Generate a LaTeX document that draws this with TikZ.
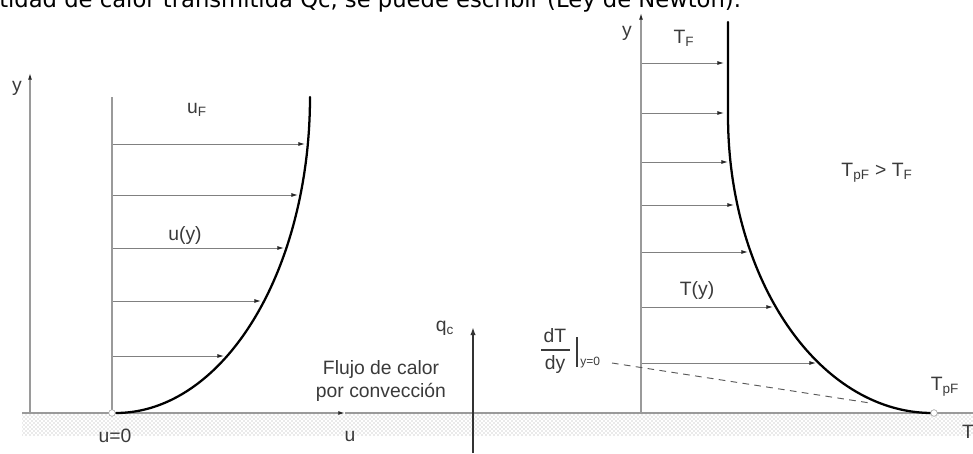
\documentclass[tikz,border=0pt]{standalone}
\usepackage{fontspec}
\setmainfont{Liberation Sans}
\newfontfamily\pagefont{DejaVu Sans}
\usetikzlibrary{arrows.meta,patterns}
\definecolor{axisgray}{HTML}{9A9A9A}
\definecolor{labelgray}{HTML}{3A3A3A}
\tikzset{
  axisline/.style={draw=axisgray, line width=0.9pt},
  axistip/.style={-{Latex[length=5pt,width=3pt,color=black!85]}},
  flowarrow/.style={draw=gray, line width=0.7pt, -{Latex[length=5pt,width=3pt,color=black!85]}},
  profile/.style={line width=1.7pt, black, line cap=round},
  lbl/.style={text=labelgray, font=\fontsize{14.5}{17}\selectfont, inner sep=0pt},
  sublbl/.style={text=labelgray, font=\fontsize{9}{10}\selectfont, inner sep=0pt},
  wallpt/.style={circle, draw=axisgray, fill=white, inner sep=0pt, minimum size=5pt},
}
\begin{document}
\begin{tikzpicture}[x=0.75pt,y=-0.75pt]
    \useasboundingbox (0,0) rectangle (973,453);
    \clip (0,0) rectangle (973,453);

    % page text above the figure
    \node[anchor=base west, inner sep=0pt, font=\pagefont\fontsize{17}{19}\selectfont] (pagetext) at (-1,8)
        {tidad de calor transmitida Qc, se puede escribir (Ley de Newton).};

    % wall
    \fill[pattern=crosshatch dots, pattern color=gray!70] (22,414) rectangle (973,435);
    \draw[axisline, axistip] (22,413) -- (345,413);
    \draw[axisline] (345,413) -- (973,413);

    % velocity profile
    \draw[axisline, axistip] (30,413) -- (30,73);
    \draw[axisline] (112,413) -- (112,97);
    \foreach \y/\xe in {144/305, 195/298, 248/284, 301/261, 356/224}
        \draw[flowarrow] (113,\y) -- (\xe,\y);
    \draw[profile] plot[domain=0:90, samples=60, smooth] ({116+194*sin(\x)}, {97+316*cos(\x)});
    \node[wallpt] (uzero) at (112,413) {};

    \node[lbl] (ylefty) at (17,88) {y};
    \node[lbl] (uF) at (197,110) {u\textsubscript{F}};
    \node[lbl] (uy) at (185,235) {u(y)};
    \node[lbl] (uwall) at (115,436) {u=0};
    \node[lbl] (uaxis) at (350,436) {u};

    % heat flux
    \draw[line width=1.2pt, black!80, -{Latex[length=6pt,width=4pt]}] (473,453) -- (473,327);
    \node[lbl] (qc) at (445,328) {q\textsubscript{c}};
    \node[lbl, align=center] (flux) at (381,381) {Flujo de calor\\por convección};

    % temperature profile
    \draw[axisline, axistip] (641,413) -- (641,13);
    \foreach \y/\xe in {63/724, 113/724, 162/728, 205/734, 252/748, 307/773, 363/816}
        \draw[flowarrow] (642,\y) -- (\xe,\y);
    \draw[profile] (728,22) -- (728,116)
        -- plot[domain=90:0, samples=60, smooth] ({932-204*sin(\x)}, {116+297*cos(\x)});
    \node[wallpt] (tzero) at (934,413) {};

    \node[lbl] (yrighty) at (627,33) {y};
    \node[lbl] (TF) at (684,38) {T\textsubscript{F}};
    \node[lbl] (Ty) at (697,290) {T(y)};
    \node[lbl] (Tcmp) at (877,173) {T\textsubscript{pF} > T\textsubscript{F}};
    \node[lbl] (TpF) at (945,387) {T\textsubscript{pF}};
    \node[lbl] (Taxis) at (968,432) {T};

    % gradient at the wall
    \node[lbl] (dT) at (555,336) {dT};
    \node[lbl] (dy) at (555,364) {dy};
    \draw[labelgray, line width=0.8pt] (541,350) -- (570,350);
    \draw[labelgray, line width=0.8pt] (577,337) -- (577,367);
    \node[sublbl, anchor=west] (yzero) at (580,363) {y=0};
    \coordinate (tanstart) at (612,363);
    \coordinate (tanend) at (870,403);
    \draw[gray!70!black, line width=0.7pt, dash pattern=on 5pt off 4pt] (tanstart) -- (tanend);
\end{tikzpicture}
\end{document}
